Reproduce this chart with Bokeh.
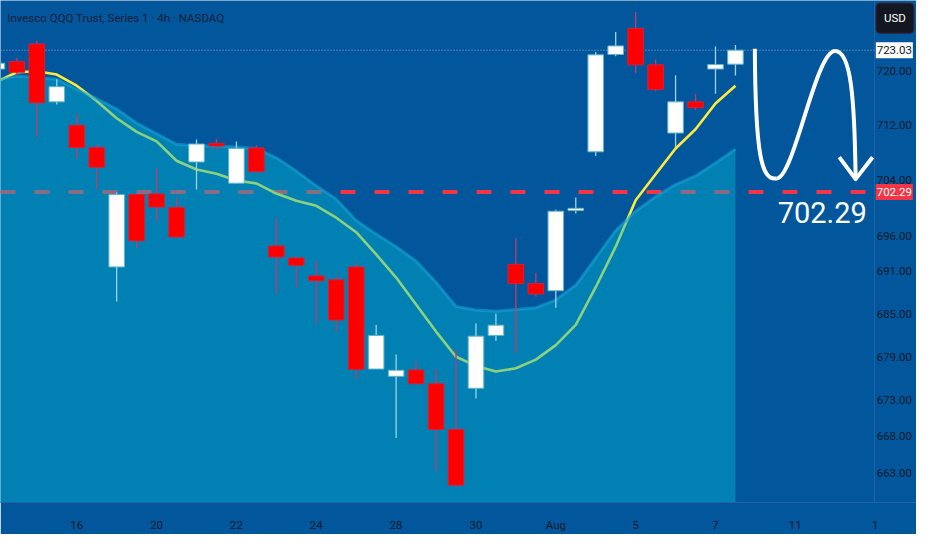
from bokeh.plotting import figure
from bokeh.models import Range1d, FixedTicker, Label, Span, ColumnDataSource
from bokeh.core.properties import value
from bokeh.embed import file_html
from bokeh.resources import INLINE

# ---- data (4h bars, index -1 .. 36) ----
BAR = list(range(-1, 37))
OPEN = [720.24, 721.34, 723.96, 715.41, 711.98, 708.74, 691.59, 701.94, 702.03, 700.09,
        706.64, 709.35, 703.57, 708.68, 694.57, 692.86, 690.32, 689.77, 691.59, 677.26,
        676.25, 677.13, 675.22, 668.92, 674.59, 681.94, 691.96, 689.23, 688.22, 699.63,
        708.12, 722.39, 726.26, 720.86, 710.85, 715.41, 720.24, 720.96]
HIGH = [721.30, 721.91, 724.43, 718.72, 713.67, 709.06, 702.22, 702.08, 705.80, 701.52,
        709.91, 710.01, 709.63, 709.06, 698.61, 693.09, 692.51, 690.46, 692.18, 683.42,
        679.28, 678.39, 677.26, 679.87, 683.66, 685.01, 695.62, 690.77, 699.77, 701.52,
        722.77, 725.72, 728.71, 721.67, 719.34, 716.59, 723.57, 723.82]
LOW = [720.10, 719.34, 710.23, 715.03, 707.10, 702.68, 686.72, 694.24, 698.10, 695.62,
       702.68, 708.36, 703.47, 705.00, 687.77, 688.76, 683.56, 682.43, 675.79, 677.26,
       667.73, 675.22, 663.20, 661.02, 673.17, 681.17, 679.51, 687.40, 685.82, 699.21,
       707.52, 722.14, 719.63, 716.93, 708.82, 714.23, 716.59, 719.29]
CLOSE = [721.10, 719.77, 715.27, 717.64, 708.74, 705.88, 701.94, 695.30, 700.13, 695.85,
         709.25, 708.96, 708.60, 705.24, 693.00, 691.82, 689.63, 684.10, 677.22, 681.94,
         677.09, 675.22, 668.92, 661.32, 681.84, 683.38, 689.23, 687.77, 699.54, 699.95,
         722.34, 723.67, 720.86, 717.25, 715.41, 714.56, 720.91, 723.03]
EMA_FAST = [718.40, 719.77, 719.91, 719.43, 717.78, 715.55, 713.01, 711.03, 709.63, 706.82,
            705.56, 704.93, 703.96, 703.54, 702.08, 701.04, 700.31, 698.61, 696.54, 693.37,
            690.09, 686.27, 682.48, 678.97, 677.69, 676.92, 677.36, 678.57, 680.59, 683.42,
            688.72, 694.47, 701.11, 704.86, 708.60, 711.41, 715.17, 717.78]
MA_SLOW = [718.60, 719.20, 718.96, 718.72, 717.29, 715.88, 714.35, 712.30, 710.75, 709.20,
           708.96, 708.96, 708.82, 708.60, 707.24, 705.32, 703.19, 701.25, 698.20, 696.26,
           694.47, 692.42, 689.41, 686.00, 685.52, 685.32, 685.59, 685.82, 686.95, 688.99,
           692.86, 696.77, 699.54, 701.62, 703.37, 704.62, 706.50, 708.50]
X_TICKS = [3, 7, 11, 15, 19, 23, 27, 31, 35, 39, 43]
X_LABELS = ["16", "20", "22", "24", "28", "30", "Aug", "5", "7", "11", "1"]
Y_TICKS = [663, 668, 673, 679, 685, 691, 696, 704, 712, 720, 728]
LAST_PRICE = 723.03
TARGET = 702.29
TITLE = "Invesco QQQ Trust, Series 1 · 4h · NASDAQ"
CURRENCY = "USD"

# projected path annotation (bar index, price)
ARROW = dict(x0=[36.97, 38.04, 40.99], y0=[723.24, 704.26, 722.90],
             x1=[38.04, 40.99, 42.02], y1=[704.26, 722.90, 704.16],
             cx0=[37.00, 38.92, 41.78], cy0=[707.66, 704.02, 722.90],
             cx1=[37.30, 40.00, 41.97], cy1=[704.02, 722.90, 716.12])
HEAD_X = [41.20, 42.02, 42.87]
HEAD_Y = [707.34, 704.16, 707.34]

BG = "#02569c"
FONT = "Roboto"
X0, X_SCALE_END, X_END = -0.82, 42.96, 45.07   # chart area / price scale split
SCALE_X = 43.96                                  # centre of price scale column

up = [c >= o for o, c in zip(OPEN, CLOSE)]
src = ColumnDataSource(dict(
    x=BAR, o=OPEN, h=HIGH, l=LOW, c=CLOSE,
    top=[max(o, c) for o, c in zip(OPEN, CLOSE)],
    bot=[min(o, c) for o, c in zip(OPEN, CLOSE)],
    fill=["#ffffff" if u else "#ff0000" for u in up],
    edge=["#62b4c4" if u else "#d4203c" for u in up],
    wick=["#9fd3e0" if u else "#c03a6a" for u in up],
))

p = figure(width=916, height=534, y_axis_type="log",
           x_range=Range1d(X0, X_END), y_range=Range1d(658.97, 730.44),
           output_backend="svg", toolbar_location=None, y_axis_location=None,
           min_border_left=0, min_border_top=0, min_border_right=0, min_border_bottom=30)
p.background_fill_color = BG
p.border_fill_color = BG
p.outline_line_color = None
p.xgrid.visible = False
p.ygrid.visible = False

xax = p.xaxis[0]
xax.ticker = FixedTicker(ticks=X_TICKS)
xax.major_label_overrides = {t: s for t, s in zip(X_TICKS, X_LABELS)}
xax.major_tick_line_color = None
xax.minor_tick_line_color = None
xax.axis_line_color = "#1f65a8"
xax.major_label_text_font = FONT
xax.major_label_text_font_size = "11.5px"
xax.major_label_text_color = "#131a2a"
xax.major_label_standoff = 9

# separator of the price scale
p.add_layout(Span(location=X_SCALE_END, dimension="height", line_color="#1f65a8",
                  line_width=1, level="underlay"))

# target dashed line and last-price dotted line (under the translucent area)
p.segment(x0=[X0], y0=[TARGET], x1=[X_SCALE_END], y1=[TARGET], line_color="#f23645",
          line_width=4, line_dash="15 19")
p.segment(x0=[X0], y0=[LAST_PRICE], x1=[X_SCALE_END], y1=[LAST_PRICE], line_color="#b8cce4",
          line_alpha=0.8, line_width=1, line_dash="1 2")

# fast EMA (drawn under the translucent slow-MA area)
p.line(BAR, EMA_FAST, line_color="#ffeb3b", line_width=2.6)

# slow MA area
p.varea(x=BAR, y1=[650.0] * len(BAR), y2=MA_SLOW, fill_color="#00b4d0", fill_alpha=0.45)
p.line(BAR, MA_SLOW, line_color="#18aad8", line_width=3, line_alpha=0.55)

# candles
p.segment(x0="x", y0="l", x1="x", y1="h", source=src, line_color="wick", line_width=1.3)
p.vbar(x="x", width=0.78, top="top", bottom="bot", source=src,
       fill_color="fill", line_color="edge", line_width=1)

# projected path arrow
p.bezier(line_color="white", line_width=4, source=ColumnDataSource(ARROW),
         x0="x0", y0="y0", x1="x1", y1="y1", cx0="cx0", cy0="cy0", cx1="cx1", cy1="cy1")
p.line(HEAD_X, HEAD_Y, line_color="white", line_width=4, line_join="round")

p.text(x=[40.35], y=[699.3], text=[f"{TARGET:.2f}"], text_color="white",
       text_font=value(FONT), text_font_size="29px",
       text_align="center", text_baseline="middle")

# price scale labels
p.text(x=[SCALE_X] * len(Y_TICKS), y=Y_TICKS, text=[f"{t:.2f}" for t in Y_TICKS],
       text_color="#131a2a", text_font=value(FONT), text_font_size="11.5px",
       text_align="center", text_baseline="middle")

# last price and target boxes on the scale
p.rect(x=[SCALE_X, SCALE_X], y=[LAST_PRICE, TARGET], width=37, height=16,
       width_units="screen", height_units="screen",
       fill_color=["white", "#f23645"], line_color=None)
p.text(x=[SCALE_X, SCALE_X], y=[LAST_PRICE, TARGET],
       text=[f"{LAST_PRICE:.2f}", f"{TARGET:.2f}"], text_color=["#131722", "white"],
       text_font=value(FONT), text_font_size="11.5px",
       text_align="center", text_baseline="middle")

# title and currency badge
p.add_layout(Label(x=-0.48, y=727.88, text=TITLE, text_font=FONT, text_font_size="11.5px",
                   text_color="#16203a", text_baseline="middle", text_align="left"))
p.add_layout(Label(x=43.99, y=727.80, text=CURRENCY,
                   text_font=FONT, text_font_size="11.5px", text_color="white",
                   background_fill_color="#131722", border_line_color="#3a1f2a",
                   text_baseline="middle", text_align="center",
                   padding=8, border_radius=4))

open("out.html", "w").write(file_html(p, INLINE))
